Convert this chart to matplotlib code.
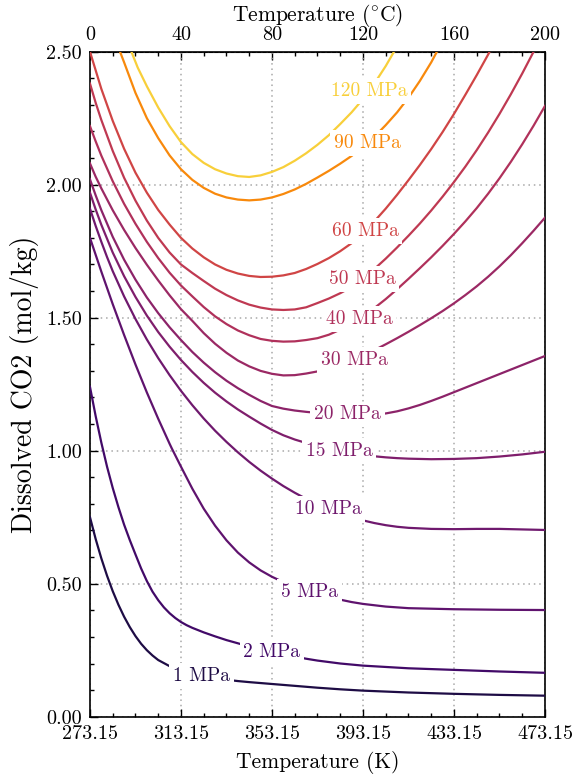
import numpy as np
import matplotlib
matplotlib.use("Agg")
import matplotlib.pyplot as plt
from matplotlib.ticker import MultipleLocator, FormatStrFormatter, FixedLocator

plt.rcParams.update({
    "font.family": "serif",
    "font.serif": ["cmr10"],
    "mathtext.fontset": "cm",
    "axes.formatter.use_mathtext": True,
    "font.size": 14.5,
})

# Pressure levels (MPa)
pressures = [1, 2, 5, 10, 15, 20, 30, 40, 50, 60, 90, 120]

# Dissolved CO2 (mol/kg) against temperature (deg C), one pair of lists per pressure
t_1 = [0, 2.5, 5, 7.5, 10, 12.5, 15, 17.5, 20, 22.5, 25, 27.5, 30, 35, 40, 45, 50, 55, 60,
       65, 70, 80, 90, 100, 110, 120, 140, 160, 180, 200]
m_1 = [0.75, 0.668, 0.595, 0.53, 0.472, 0.421, 0.376, 0.337, 0.303, 0.274, 0.25, 0.23, 0.213,
       0.19, 0.173, 0.161, 0.152, 0.145, 0.139, 0.134, 0.13, 0.123, 0.116, 0.109, 0.103, 0.098,
       0.091, 0.086, 0.082, 0.079]

t_2 = [0, 2.5, 5, 7.5, 10, 12.5, 15, 17.5, 20, 22.5, 25, 27.5, 30, 32.5, 35, 37.5, 40, 42.5,
       45, 50, 55, 60, 65, 70, 75, 80, 85, 90, 95, 100, 110, 120, 140, 160, 180, 200]
m_2 = [1.24, 1.13, 1.03, 0.94, 0.86, 0.788, 0.722, 0.664, 0.61, 0.557, 0.51, 0.47, 0.438,
       0.411, 0.389, 0.371, 0.356, 0.344, 0.334, 0.317, 0.302, 0.288, 0.276, 0.264, 0.253,
       0.243, 0.234, 0.226, 0.218, 0.211, 0.2, 0.192, 0.182, 0.176, 0.17, 0.165]

t_5 = [0, 5, 10, 15, 20, 25, 30, 35, 36, 40, 45, 50, 55, 60, 65, 70, 75, 80, 85, 90, 95, 100,
       105, 110, 115, 120, 130, 140, 160, 180, 200]
m_5 = [1.80, 1.673, 1.551, 1.435, 1.324, 1.219, 1.12, 1.026, 1.008, 0.94, 0.857, 0.782, 0.718,
       0.663, 0.617, 0.58, 0.55, 0.526, 0.506, 0.489, 0.474, 0.461, 0.45, 0.44, 0.431, 0.424,
       0.414, 0.408, 0.404, 0.402, 0.401]

t_10 = [0, 2.5, 5, 7.5, 10, 15, 20, 25, 30, 35, 40, 45, 50, 55, 60, 65, 70, 75, 80, 85, 90,
        95, 100, 105, 110, 115, 120, 125, 130, 135, 140, 150, 160, 170, 180, 190, 200]
m_10 = [1.91, 1.845, 1.785, 1.728, 1.675, 1.58, 1.495, 1.418, 1.348, 1.284, 1.225, 1.171,
        1.121, 1.075, 1.033, 0.994, 0.958, 0.925, 0.895, 0.867, 0.842, 0.819, 0.798, 0.78,
        0.764, 0.75, 0.738, 0.728, 0.72, 0.714, 0.71, 0.706, 0.705, 0.706, 0.706, 0.704, 0.702]

t_15 = [0, 2.5, 5, 10, 15, 20, 25, 30, 35, 40, 45, 50, 55, 60, 65, 70, 75, 80, 85, 90,
        95, 100, 105, 110, 115, 120, 125, 130, 135, 140, 150, 160, 170, 180, 190, 200]
m_15 = [1.97, 1.907, 1.849, 1.745, 1.656, 1.578, 1.508, 1.446, 1.391, 1.341, 1.296, 1.255,
        1.218, 1.185, 1.155, 1.128, 1.102, 1.078, 1.058, 1.042, 1.029, 1.017, 1.007, 0.998,
        0.99, 0.984, 0.979, 0.975, 0.972, 0.97, 0.968, 0.969, 0.972, 0.978, 0.986, 0.996]

t_20 = [0, 2.5, 5, 10, 15, 20, 25, 30, 35, 40, 45, 50, 55, 60, 65, 70, 75, 80, 85, 90,
        95, 100, 105, 110, 115, 120, 125, 130, 135, 140, 145, 150, 155, 160, 165, 170, 175,
        180, 185, 190, 195, 200]
m_20 = [2.02, 1.96, 1.904, 1.804, 1.718, 1.643, 1.576, 1.517, 1.464, 1.416, 1.371, 1.331,
        1.295, 1.263, 1.235, 1.21, 1.187, 1.168, 1.158, 1.151, 1.146, 1.142, 1.139, 1.137,
        1.136, 1.136, 1.137, 1.140, 1.148, 1.159, 1.172, 1.187, 1.203, 1.22, 1.237,
        1.254, 1.271, 1.288, 1.305, 1.322, 1.339, 1.356]

t_30 = [0, 2.5, 5, 10, 15, 20, 25, 30, 35, 40, 45, 50, 55, 60, 65, 70, 75, 80, 85, 90,
        95, 100, 105, 110, 115, 120, 125, 130, 135, 140, 145, 150, 155, 160, 165, 170, 175,
        180, 185, 190, 195, 200]
m_30 = [2.08, 2.03, 1.986, 1.904, 1.830, 1.762, 1.699, 1.64, 1.584, 1.532, 1.488, 1.442,
        1.402, 1.368, 1.339, 1.317, 1.30, 1.289, 1.283, 1.284, 1.29, 1.298, 1.309, 1.322,
        1.338, 1.357, 1.378, 1.40, 1.423, 1.447, 1.472, 1.498, 1.525, 1.554, 1.585, 1.618,
        1.654, 1.693, 1.735, 1.78, 1.827, 1.876]

t_40 = [0, 2.5, 5, 10, 15, 20, 25, 30, 35, 40, 45, 50, 55, 60, 65, 70, 75, 80, 85, 90,
        95, 100, 105, 110, 115, 120, 125, 130, 135, 140, 145, 150, 155, 160, 165, 170, 175,
        180, 185, 190, 195, 200]
m_40 = [2.22, 2.163, 2.109, 2.013, 1.928, 1.853, 1.785, 1.724, 1.669, 1.621, 1.58, 1.54,
        1.505, 1.476, 1.452, 1.434, 1.42, 1.413, 1.41, 1.411, 1.416, 1.423, 1.436, 1.455,
        1.478, 1.505, 1.536, 1.57, 1.607, 1.646, 1.686, 1.727, 1.77, 1.815, 1.862, 1.912,
        1.966, 2.024, 2.086, 2.152, 2.222, 2.296]

t_50 = [0, 2.5, 5, 10, 15, 20, 25, 30, 35, 40, 45, 50, 55, 60, 65, 70, 75, 80, 85, 90,
        95, 100, 105, 110, 115, 120, 125, 130, 135, 140, 145, 150, 155, 160, 165, 170, 175,
        180, 185, 190, 195]
m_50 = [2.38, 2.308, 2.243, 2.127, 2.026, 1.94, 1.865, 1.8, 1.745, 1.70, 1.668, 1.638,
        1.609, 1.585, 1.565, 1.549, 1.538, 1.531, 1.529, 1.531, 1.539, 1.555, 1.572, 1.592,
        1.615, 1.647, 1.683, 1.722, 1.764, 1.808, 1.854, 1.903, 1.955, 2.01, 2.068, 2.13,
        2.196, 2.266, 2.34, 2.418, 2.50]

t_60 = [0, 2.5, 5, 7.5, 10, 15, 20, 25, 30, 35, 40, 45, 50, 55, 60, 65, 70, 75, 80, 85, 90,
        95, 100, 105, 110, 115, 120, 125, 130, 135, 140, 145, 150, 155, 160, 165, 170, 175, 180]
m_60 = [2.50, 2.43, 2.36, 2.30, 2.24, 2.135, 2.045, 1.97, 1.905, 1.85, 1.80, 1.76, 1.727, 1.70,
        1.68, 1.666, 1.657, 1.653, 1.654, 1.659, 1.668, 1.683, 1.702, 1.724, 1.75, 1.78, 1.818,
        1.862, 1.91, 1.962, 2.017, 2.074, 2.134, 2.198, 2.266, 2.338, 2.412, 2.489, 2.57]

t_90 = [13.2, 15, 20, 25, 30, 35, 40, 45, 50, 55, 60, 65, 70, 75, 80, 85, 90, 95, 100, 105,
        110, 115, 120, 125, 130, 135, 140, 145, 150, 155]
m_90 = [2.5, 2.46, 2.345, 2.25, 2.175, 2.11, 2.058, 2.018, 1.988, 1.966, 1.952, 1.944, 1.941,
        1.944, 1.952, 1.965, 1.982, 2.003, 2.027, 2.052, 2.079, 2.108, 2.142, 2.18, 2.224,
        2.272, 2.327, 2.39, 2.46, 2.54]

t_120 = [18.2, 21, 25, 30, 35, 40, 45, 50, 55, 60, 65, 70, 75, 80, 85, 90, 95, 100, 105, 110,
         115, 120, 125, 130, 135]
m_120 = [2.5, 2.44, 2.37, 2.29, 2.22, 2.16, 2.115, 2.082, 2.058, 2.042, 2.032, 2.029, 2.035,
         2.048, 2.066, 2.09, 2.118, 2.15, 2.186, 2.228, 2.272, 2.322, 2.38, 2.446, 2.52]

temps = [t_1, t_2, t_5, t_10, t_15, t_20, t_30, t_40, t_50, t_60, t_90, t_120]
sols = [m_1, m_2, m_5, m_10, m_15, m_20, m_30, m_40, m_50, m_60, m_90, m_120]

# where each inline label sits along its curve (deg C)
label_t = [49, 80, 96.6, 104.7, 109.5, 113.2, 116.1, 118.3, 119.6, 120.9, 122.0, 122.7]

# colour of each pressure level, sampled from inferno
cmap_pos = [0.12, 0.20, 0.27, 0.31, 0.35, 0.38, 0.42, 0.47, 0.51, 0.56, 0.74, 0.885]
colors = [plt.cm.inferno(c) for c in cmap_pos]

T0 = 273.15

fig = plt.figure(figsize=(5.85, 7.77), dpi=100)
ax = fig.add_axes([0.1538, 0.0776, 0.9316 - 0.1538, 0.9335 - 0.0776])

for p, t, m, c, lt in zip(pressures, temps, sols, colors, label_t):
    tk = np.asarray(t) + T0
    ax.plot(tk, m, color=c, lw=1.6, zorder=3, solid_joinstyle="round")
    ly = np.interp(lt, t, m)
    ax.text(lt + T0, ly, f"{p} MPa", color=c, ha="center", va="center",
            fontsize=14, zorder=4,
            bbox=dict(boxstyle="square,pad=0.2", fc="white", ec="none"))

ax.set_xlim(T0, T0 + 200)
ax.set_ylim(0, 2.5)

ax.set_xticks(T0 + np.arange(0, 201, 40))
ax.xaxis.set_minor_locator(FixedLocator(T0 + np.arange(0, 201, 10)))
ax.xaxis.set_major_formatter(FormatStrFormatter("%.2f"))
ax.yaxis.set_major_locator(MultipleLocator(0.5))
ax.yaxis.set_minor_locator(MultipleLocator(0.1))
ax.yaxis.set_major_formatter(FormatStrFormatter("%.2f"))

ax.tick_params(which="both", direction="in", top=False, right=False, width=1.0)
ax.tick_params(which="major", length=5.5)
ax.tick_params(which="minor", length=3)
ax.tick_params(axis="x", which="major", pad=6, labelsize=14.5)
ax.tick_params(axis="y", which="major", pad=6, labelsize=14.5)

ax.grid(True, which="major", linestyle=(0, (1, 2.5)), color="#a8a8a8", linewidth=1.1)
for s in ax.spines.values():
    s.set_linewidth(1.2)

ax.set_xlabel("Temperature (K)", fontsize=15.5, labelpad=6)
ax.set_ylabel("Dissolved CO2 (mol/kg)", fontsize=20)
ax.yaxis.set_label_coords(-0.112, 0.5)

sec = ax.secondary_xaxis("top", functions=(lambda k: k - T0, lambda c: c + T0))
sec.set_xticks(np.arange(0, 201, 40))
sec.xaxis.set_minor_locator(MultipleLocator(10))
sec.xaxis.set_major_formatter(FormatStrFormatter("%d"))
sec.tick_params(which="both", direction="in", width=1.0, labelsize=14.5)
sec.tick_params(which="major", length=5.5, pad=5.5)
sec.tick_params(which="minor", length=3)
sec.set_xlabel("Temperature ($^{\\circ}$C)", fontsize=15.5)
sec.xaxis.set_label_coords(0.5, 1.0465, transform=ax.transAxes)

fig.savefig("out.png", dpi=100)
